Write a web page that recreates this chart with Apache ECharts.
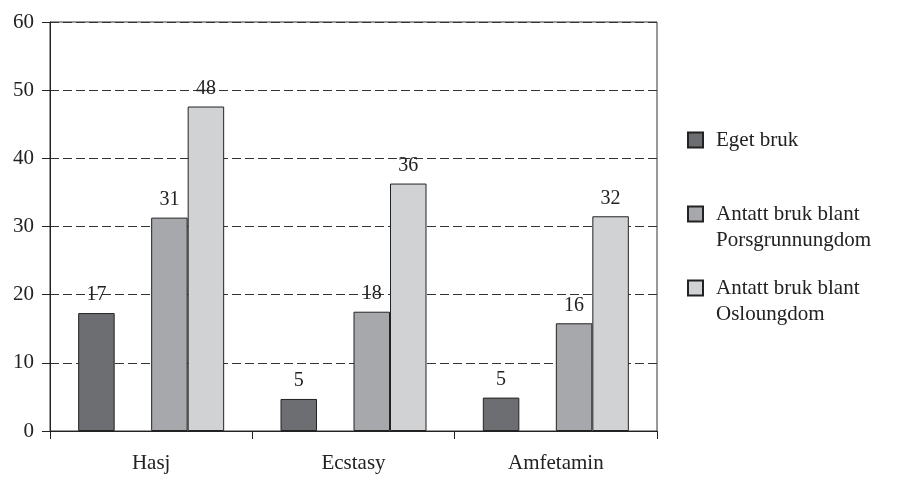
<!DOCTYPE html>
<html>
<head>
<meta charset="utf-8">
<script src="https://cdn.jsdelivr.net/npm/echarts@6/dist/echarts.min.js"></script>
<style>html,body{margin:0;padding:0;background:#fff;}#c{width:897px;height:481px;}</style>
</head>
<body>
<div id="c"></div>
<script>
var categories = ['Hasj', 'Ecstasy', 'Amfetamin'];
var egetBruk = [17.3, 4.7, 4.9];
var porsgrunn = [31.3, 17.5, 15.8];
var oslo = [47.6, 36.3, 31.5];
var seriesNames = ['Eget bruk', 'Antatt bruk blant\nPorsgrunnungdom', 'Antatt bruk blant\nOsloungdom'];
var yTicks = [0, 10, 20, 30, 40, 50, 60];

var FONT = '"Liberation Serif", "Times New Roman", serif';
var TXT = '#222';
var chart = echarts.init(document.getElementById('c'));

function barSeries(name, data, color) {
  return {
    name: name, type: 'bar', data: data, barWidth: 36.5, barGap: 0,
    itemStyle: { color: color, borderColor: '#222', borderWidth: 1 },
    label: { show: true, position: 'top', distance: 8, color: TXT, fontFamily: FONT, fontSize: 20,
      formatter: function (p) { return Math.round(p.value); } }
  };
}
function legendFor(name, top, twoLine) {
  return {
    data: [name], orient: 'vertical', left: 687, top: top, padding: 0,
    itemWidth: 15, itemHeight: 15, icon: 'rect', selectedMode: false,
    formatter: function (n) { return twoLine ? '\n' + n : n; },
    textStyle: { color: TXT, fontFamily: FONT, fontSize: 21, lineHeight: 26,
      padding: [0, 0, 0, 8] }
  };
}

chart.setOption({
  animation: false,
  backgroundColor: '#fff',
  grid: { left: 50, right: 240, top: 22, bottom: 50, show: true, borderColor: '#333', borderWidth: 1, backgroundColor: 'transparent' },
  legend: [
    legendFor(seriesNames[0], 127, false),
    legendFor(seriesNames[1], 175, true),
    legendFor(seriesNames[2], 249, true)
  ],
  xAxis: {
    type: 'category', data: categories,
    axisLine: { lineStyle: { color: '#222', width: 1 } },
    axisTick: { show: true, length: 8, lineStyle: { color: '#222' } },
    axisLabel: { color: TXT, fontFamily: FONT, fontSize: 21, margin: 22 },
    splitLine: { show: false }
  },
  yAxis: {
    type: 'value', min: yTicks[0], max: yTicks[yTicks.length - 1], interval: 10,
    axisLine: { show: true, lineStyle: { color: '#222', width: 1 } },
    axisTick: { show: true, length: 8, lineStyle: { color: '#222' } },
    axisLabel: { color: TXT, fontFamily: FONT, fontSize: 21, margin: 16 },
    splitLine: { show: true, lineStyle: { color: '#333', width: 1, type: [9, 4] } }
  },
  series: [
    barSeries(seriesNames[0], egetBruk, '#6d6e72'),
    { name: '_gap', type: 'bar', data: categories.map(function () { return null; }), barWidth: 36.5, barGap: 0 },
    barSeries(seriesNames[1], porsgrunn, '#a7a8ab'),
    barSeries(seriesNames[2], oslo, '#d1d2d4')
  ]
});
</script>
</body>
</html>
